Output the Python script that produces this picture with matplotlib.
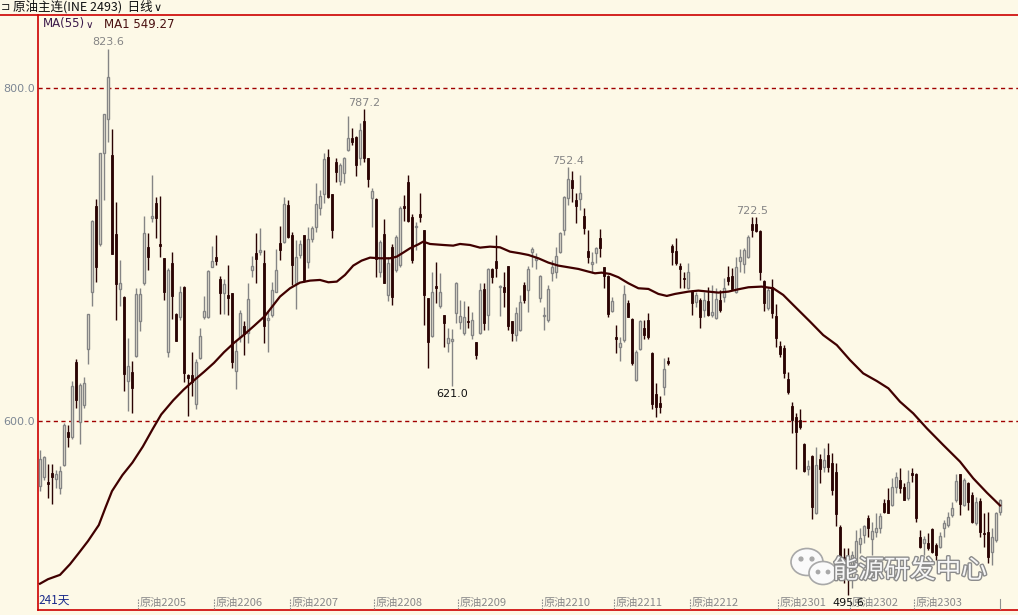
import matplotlib
matplotlib.use("Agg")
import matplotlib.pyplot as plt
import matplotlib.patheffects as pe
from matplotlib.patches import Ellipse, Circle
from matplotlib.lines import Line2D
import numpy as np

# daily candles, 241 days
opens = [561.1, 566.4, 563.6, 568.6, 564.9, 560.0, 573.5, 593.6, 590.6, 635.3,
         599.6, 609.8, 643.2, 677.6, 729.4, 706.1, 761.1, 781.4, 760.0, 712.3,
         679.1, 674.4, 624.2, 629.5, 639.1, 660.1, 683.0, 704.4, 722.1, 731.1,
         706.5, 698.0, 641.7, 694.8, 664.2, 662.7, 680.2, 627.4, 627.8, 610.3,
         638.1, 662.2, 662.7, 692.6, 698.6, 685.1, 676.6, 675.9, 676.6, 629.9,
         650.5, 657.3, 653.1, 690.5, 700.7, 701.2, 694.8, 660.5, 663.7, 677.6,
         706.7, 707.7, 729.7, 711.7, 682.7, 699.7, 711.7, 695.7, 709.1, 716.7,
         727.7, 736.1, 758.4, 736.1, 755.8, 744.3, 748.7, 762.8, 769.8, 770.8,
         757.8, 780.2, 757.8, 733.7, 733.1, 689.7, 712.3, 675.7, 704.7, 690.7,
         693.7, 729.1, 743.7, 722.7, 716.7, 724.3, 714.7, 673.7, 651.1, 681.1,
         669.1, 663.7, 646.7, 648.3, 664.7, 659.7, 652.7, 660.3, 651.7, 647.2,
         652.7, 679.1, 663.7, 691.1, 696.1, 680.3, 680.3, 693.1, 660.1, 651.7,
         654.7, 681.7, 678.7, 701.7, 696.7, 673.7, 663.1, 660.7, 688.7, 689.3,
         701.7, 714.7, 733.7, 744.7, 732.7, 733.1, 723.1, 702.3, 694.1, 701.1,
         709.7, 692.3, 687.1, 666.3, 650.7, 644.7, 648.7, 670.7, 661.1, 624.6,
         643.0, 655.7, 660.7, 641.0, 616.0, 611.0, 620.2, 636.0, 705.3, 702.3,
         693.1, 686.1, 679.7, 678.1, 671.7, 672.7, 666.7, 672.3, 663.7, 661.7,
         672.7, 674.7, 686.7, 687.1, 677.7, 696.3, 694.3, 698.3, 718.3, 718.3,
         714.3, 684.1, 667.7, 680.3, 663.1, 645.0, 643.6, 625.0, 609.2, 602.6,
         600.6, 586.2, 571.0, 579.0, 544.6, 577.0, 572.2, 579.6, 575.0, 569.6,
         536.1, 518.5, 518.9, 512.5, 514.9, 526.1, 531.5, 541.5, 528.9, 533.5,
         535.5, 550.5, 552.5, 549.5, 560.5, 564.6, 560.5, 553.5, 568.6, 568.2,
         530.5, 526.5, 526.9, 534.9, 525.5, 524.5, 535.5, 537.5, 543.5, 552.5,
         568.2, 549.5, 562.6, 555.5, 538.5, 552.2, 532.9, 533.5, 521.5, 528.5,
         545.5]
highs = [582.5, 579.2, 573.9, 573.9, 570.7, 572.8, 598.5, 597.4, 624.2, 637.4,
         622.7, 626.3, 664.2, 720.4, 733.3, 761.1, 784.6, 823.6, 775.6, 731.8,
         696.5, 675.3, 650.0, 635.9, 679.8, 679.8, 723.2, 712.9, 747.6, 734.3,
         735.0, 698.0, 691.6, 701.2, 664.6, 680.8, 681.3, 628.5, 641.3, 637.0,
         656.0, 675.1, 690.5, 704.8, 711.9, 687.3, 685.1, 693.7, 676.6, 648.8,
         666.5, 659.9, 683.0, 699.0, 712.9, 716.1, 702.7, 665.9, 683.4, 703.3,
         717.1, 734.3, 732.7, 713.7, 708.7, 708.7, 711.7, 716.7, 717.1, 742.7,
         738.7, 760.8, 763.2, 736.1, 757.8, 754.8, 758.8, 783.2, 775.8, 771.2,
         778.8, 787.2, 757.8, 739.7, 733.7, 708.7, 721.1, 698.7, 706.3, 711.7,
         729.1, 735.7, 747.7, 724.3, 719.7, 736.7, 714.7, 673.7, 689.7, 695.7,
         689.1, 663.7, 655.7, 655.3, 683.7, 672.7, 672.1, 669.1, 665.7, 647.2,
         682.7, 682.7, 691.7, 691.7, 711.7, 681.7, 689.7, 693.1, 660.1, 668.7,
         675.7, 683.7, 693.1, 704.7, 700.7, 687.7, 668.7, 681.7, 696.7, 704.3,
         713.7, 735.1, 752.4, 750.3, 737.1, 747.7, 727.7, 714.7, 701.7, 704.7,
         715.1, 692.7, 687.7, 674.7, 657.7, 650.7, 681.7, 672.7, 661.7, 642.6,
         660.7, 660.7, 664.7, 641.6, 623.0, 615.0, 637.6, 638.6, 706.1, 709.7,
         694.7, 689.7, 694.7, 678.7, 677.7, 673.7, 677.7, 680.7, 681.7, 679.7,
         678.7, 685.7, 693.1, 691.7, 698.7, 703.1, 703.7, 711.7, 722.5, 722.3,
         714.7, 684.7, 680.3, 685.1, 670.3, 648.2, 645.6, 629.6, 611.6, 604.6,
         607.0, 586.6, 576.6, 579.6, 584.6, 580.2, 583.6, 586.6, 581.0, 574.6,
         537.5, 523.5, 523.5, 522.0, 534.5, 535.5, 537.5, 543.5, 539.5, 544.5,
         544.9, 552.9, 559.5, 565.5, 569.6, 571.6, 562.9, 570.6, 571.6, 568.6,
         534.5, 530.9, 532.5, 535.5, 526.5, 533.5, 540.5, 545.5, 551.5, 568.2,
         568.2, 565.6, 563.6, 557.5, 554.5, 553.5, 544.5, 545.5, 535.5, 545.5,
         552.9]
lows = [557.9, 564.3, 553.6, 550.4, 560.0, 556.4, 572.8, 584.6, 588.9, 608.1,
        586.3, 608.1, 634.2, 669.1, 683.6, 704.8, 732.6, 767.5, 700.1, 660.5,
        669.1, 617.8, 606.0, 604.9, 638.5, 654.1, 681.9, 690.5, 719.3, 709.7,
        698.6, 672.9, 638.7, 661.2, 648.3, 660.5, 623.5, 602.8, 614.9, 607.1,
        637.4, 661.2, 661.6, 692.2, 693.7, 664.4, 664.4, 663.7, 631.7, 619.2,
        647.7, 639.6, 647.1, 686.2, 683.0, 699.4, 646.6, 641.7, 662.7, 677.6,
        696.7, 706.7, 709.7, 681.7, 667.3, 697.7, 683.7, 691.7, 707.7, 713.7,
        723.7, 730.7, 733.7, 709.7, 743.7, 741.7, 742.7, 762.4, 765.8, 747.1,
        753.8, 755.8, 740.7, 716.7, 686.7, 686.7, 683.1, 672.3, 669.7, 689.7,
        692.7, 720.3, 719.7, 694.7, 702.7, 719.7, 657.7, 631.7, 650.7, 670.7,
        667.7, 644.7, 641.7, 621.0, 658.7, 655.1, 651.7, 656.1, 649.1, 637.0,
        652.1, 654.7, 654.7, 682.7, 686.7, 663.1, 668.7, 654.7, 648.3, 648.1,
        654.3, 671.1, 665.7, 692.7, 691.1, 671.7, 654.7, 659.7, 684.3, 685.7,
        700.7, 711.7, 729.7, 731.7, 719.1, 726.7, 712.3, 695.1, 688.7, 694.7,
        698.7, 679.7, 662.7, 665.7, 640.7, 636.2, 647.7, 662.3, 633.6, 624.2,
        642.6, 649.1, 649.1, 607.0, 602.6, 604.6, 615.6, 633.6, 693.7, 693.7,
        679.7, 679.7, 679.1, 663.7, 668.7, 655.7, 662.7, 663.1, 662.7, 661.1,
        665.7, 671.7, 681.7, 678.7, 676.7, 689.7, 688.7, 697.7, 710.7, 713.7,
        684.7, 666.3, 666.7, 661.7, 644.2, 638.6, 625.6, 616.2, 592.6, 571.0,
        595.0, 569.6, 567.6, 540.9, 544.2, 562.6, 569.6, 569.6, 555.6, 536.9,
        513.5, 502.5, 495.6, 500.0, 514.1, 520.5, 526.5, 530.5, 519.5, 530.5,
        532.5, 544.5, 544.5, 548.9, 556.5, 556.5, 552.5, 552.5, 563.6, 539.5,
        523.5, 519.5, 522.5, 520.5, 516.5, 523.5, 530.5, 536.5, 542.5, 551.5,
        543.5, 548.9, 546.5, 538.5, 537.5, 530.5, 524.5, 514.5, 513.5, 527.5,
        543.5]
closes = [577.1, 578.2, 562.4, 566.4, 567.9, 570.1, 597.4, 590.6, 620.9, 612.4,
          621.8, 622.7, 664.2, 719.8, 692.6, 761.1, 784.6, 806.4, 700.1, 682.4,
          683.0, 628.0, 633.2, 619.9, 676.2, 676.2, 712.7, 698.6, 723.0, 722.1,
          704.8, 677.6, 690.9, 674.9, 648.3, 677.6, 628.9, 625.9, 623.5, 635.3,
          650.9, 665.9, 690.1, 695.8, 695.8, 676.6, 682.4, 674.0, 635.3, 642.3,
          664.8, 652.4, 673.4, 693.1, 697.5, 702.7, 657.3, 661.6, 678.7, 690.5,
          702.7, 730.1, 710.7, 693.7, 698.7, 706.3, 684.7, 709.1, 715.7, 730.1,
          735.1, 757.4, 734.7, 714.7, 749.8, 753.8, 757.8, 769.8, 767.8, 753.8,
          774.8, 757.8, 745.1, 738.3, 697.0, 707.7, 683.1, 694.7, 674.7, 710.7,
          728.1, 727.7, 720.3, 696.7, 717.3, 722.7, 675.7, 647.7, 677.7, 679.7,
          677.3, 658.7, 650.1, 649.3, 683.1, 663.1, 662.7, 659.3, 660.7, 639.7,
          678.7, 659.1, 691.3, 686.3, 692.1, 681.1, 677.7, 657.1, 653.1, 665.1,
          671.3, 672.7, 691.1, 703.1, 697.7, 687.1, 663.7, 679.1, 692.7, 699.1,
          712.7, 734.3, 745.1, 739.7, 729.1, 737.1, 715.7, 698.7, 695.7, 703.7,
          703.7, 687.1, 664.3, 672.3, 649.1, 647.1, 676.3, 662.7, 634.6, 641.6,
          660.1, 651.6, 650.7, 610.2, 608.6, 608.2, 631.0, 634.6, 701.7, 695.1,
          691.1, 685.3, 689.7, 670.7, 675.7, 662.3, 672.7, 663.7, 665.7, 673.1,
          666.7, 679.7, 684.3, 679.1, 692.7, 698.7, 702.7, 710.3, 714.7, 714.3,
          689.7, 670.7, 678.7, 665.1, 649.7, 640.2, 628.6, 617.6, 600.6, 593.6,
          596.6, 570.2, 573.0, 548.6, 573.6, 571.0, 576.6, 572.6, 558.6, 544.2,
          516.5, 509.5, 507.5, 519.5, 528.1, 529.5, 536.9, 535.5, 534.1, 535.5,
          542.9, 545.5, 544.5, 560.2, 566.6, 559.5, 552.5, 563.6, 567.6, 541.5,
          524.5, 528.9, 523.5, 521.5, 519.5, 530.9, 538.5, 542.5, 547.5, 564.2,
          550.2, 564.6, 551.5, 539.5, 551.5, 533.5, 531.9, 518.5, 530.5, 544.5,
          552.5]

# MA(55) read at sampled bars
ma_idx = [0, 2, 5, 7.5, 9.6, 12, 14.7, 16.4, 18, 20.6, 23.1, 25.7, 28.2, 30.3,
          33.3, 35.9, 38.4, 41, 43.5, 46, 48.6, 51.1, 53.6, 56.2, 57.5, 60, 62.5,
          65, 67.5, 70, 72.1, 74.2, 76.25, 78.3, 80.4, 82.5, 85, 87.5, 89.2, 90.8,
          92.5, 94.6, 95.8, 97.5, 100.8, 103.3, 105, 107.5, 110, 112.5, 115,
          117.5, 120, 122.1, 124.6, 127.1, 129.6, 132.1, 134.6, 137.1, 138.75,
          140.4, 142.5, 144.6, 147.1, 149.6, 152.1, 154.6, 156.7, 158.75, 162.1,
          164.6, 167.1, 169.6, 172.1, 174.6, 177.1, 180.4, 183.3, 185.8, 188.3,
          192.5, 195.8, 199.2, 202.5, 205.8, 209.2, 212.1, 215, 218.3, 221.7,
          225.8, 230, 233.3, 236.7, 240]
ma_val = [502.3, 505.0, 507.6, 514.0, 520.4, 527.9, 537.5, 548.2, 557.9, 567.5,
          575.0, 584.6, 595.3, 603.9, 612.4, 618.8, 624.2, 629.5, 634.9, 641.3,
          647.1, 652.0, 657.3, 663.0, 667.0, 674.7, 679.7, 683.1, 684.3, 684.7,
          683.3, 683.7, 687.7, 693.3, 696.3, 698.1, 697.7, 697.7, 698.7, 701.1,
          703.7, 706.1, 707.7, 706.3, 705.7, 705.3, 706.3, 705.7, 704.1, 704.7,
          704.3, 701.7, 700.7, 699.7, 697.7, 695.1, 693.3, 692.3, 691.3, 689.7,
          688.7, 689.1, 688.3, 686.3, 682.7, 679.7, 679.3, 676.3, 675.1, 676.3,
          677.7, 678.3, 677.7, 677.1, 677.7, 679.1, 680.3, 680.7, 679.7, 675.7,
          669.7, 659.7, 651.6, 645.6, 636.6, 628.6, 624.0, 619.6, 611.6, 604.6,
          595.6, 585.6, 575.6, 565.6, 557.0, 549.27]

month_idx = [25, 44, 63, 84, 105, 126, 144, 163, 185, 203, 219]
month_lab = ["原油2205", "原油2206", "原油2207", "原油2208", "原油2209", "原油2210",
             "原油2211", "原油2212", "原油2301", "原油2302", "原油2303"]

peak_idx = [17, 81, 132, 178]
trough_idx = [103, 202]

bg = "#fdf9e7"
up_col = "#858585"
dn_col = "#2a0303"
red = "#cc0000"
cjk = ["Noto Sans CJK SC", "DejaVu Sans"]

W, H = 1018, 615
fig = plt.figure(figsize=(W / 100, H / 100), dpi=100, facecolor=bg)
ax = fig.add_axes([38 / W, 5 / H, (W - 38) / W, 595 / H], facecolor=bg)

o = np.array(opens)
h = np.array(highs)
l = np.array(lows)
c = np.array(closes)
x = np.arange(len(c))
up = c >= o
dn = ~up

ax.vlines(x[up], l[up], h[up], color=up_col, lw=1, zorder=2)
ax.bar(x[up], np.maximum(c[up] - o[up], 0.3), bottom=o[up], width=0.62,
       facecolor=bg, edgecolor=up_col, lw=1, zorder=3)
ax.vlines(x[dn], l[dn], h[dn], color=dn_col, lw=1, zorder=2)
ax.bar(x[dn], np.maximum(o[dn] - c[dn], 0.6), bottom=c[dn], width=0.72,
       facecolor=dn_col, edgecolor=dn_col, lw=0.6, zorder=3)

ax.plot(ma_idx, ma_val, color="#400000", lw=1.6, zorder=4)

for lv in [600, 800]:
    ax.axhline(lv, color="#a00000", lw=1, ls=(0, (3, 2.5)), zorder=1)

ax.set_xlim(-0.5, 244.5)
ax.set_ylim(486.5, 843.8)
ax.set_yticks([600, 800])
ax.set_yticklabels(["600.0", "800.0"])
ax.tick_params(axis="y", length=0, pad=2, labelsize=8, labelcolor="#7d8794")
ax.set_xticks([])
for s in ["top", "right"]:
    ax.spines[s].set_visible(False)
ax.spines["left"].set_color(red)
ax.spines["bottom"].set_color(red)
ax.spines["left"].set_linewidth(1.2)
ax.spines["bottom"].set_linewidth(1.2)

# peak / trough labels
for i in peak_idx:
    ax.annotate(f"{highs[i]:.1f}", (i, highs[i]), xytext=(0, 1), textcoords="offset points",
                ha="center", va="bottom", fontsize=8, color="#858585", zorder=6)
for i in trough_idx:
    ax.annotate(f"{lows[i]:.1f}", (i, lows[i]), xytext=(0, -2), textcoords="offset points",
                ha="center", va="top", fontsize=8, color="#111111", zorder=7)

# month labels along the bottom
tr = ax.get_xaxis_transform()
for i, lab in zip(month_idx, month_lab):
    ax.plot([i - 0.5, i - 0.5], [0.002, 0.019], transform=tr, color="#909090",
            lw=0.8, ls=(0, (1.5, 1)), clip_on=False, zorder=5)
    ax.text(i, 0.011, lab, transform=tr, fontsize=8, color="#8a8a8a",
            family=cjk, ha="left", va="center", zorder=5)
ax.plot([240, 240], [0.002, 0.019], transform=tr, color="#909090", lw=0.8, zorder=5)
ax.text(0, 0.016, "241天", transform=ax.transAxes, fontsize=8.5, color="#1a2a8a",
        family=cjk, ha="left", va="center", zorder=6)

# header
fig.add_artist(Line2D([0, 1], [1 - 15 / H, 1 - 15 / H], color=red, lw=1.2))
fig.text(1 / W, 1 - 7 / H, "⊐", fontsize=8, color="#222222", va="center")
fig.text(13 / W, 1 - 7 / H, "原油主连(INE 2493)  日线", fontsize=9, color="#111111",
         family=cjk, va="center")
fig.text(154 / W, 1 - 8 / H, "∨", fontsize=8, color="#111111", va="center")
fig.text(43 / W, 1 - 24 / H, "MA(55)", fontsize=8.5, color="#3c1a4a", va="center")
fig.text(86 / W, 1 - 25 / H, "∨", fontsize=7.5, color="#3c1a4a", va="center")
fig.text(104 / W, 1 - 24 / H, "MA1 549.27", fontsize=8.5, color="#4a1010", va="center")

# watermark
wm = fig.add_axes([0, 0, 1, 1], facecolor="none")
wm.set_xlim(0, W)
wm.set_ylim(H, 0)
wm.axis("off")
wm.add_patch(Ellipse((807, 562), 32, 27, facecolor="#fafafa", edgecolor="#a8a8a8", lw=1.2))
wm.add_patch(Ellipse((823, 573), 28, 23, facecolor="#fafafa", edgecolor="#a8a8a8", lw=1.2))
for ex, ey, r in [(801, 559, 1.9), (812, 559, 1.9), (818, 572, 1.7), (828, 572, 1.7)]:
    wm.add_patch(Circle((ex, ey), r, color="#a8a8a8"))
wm.text(910, 571, "能源研发中心", fontsize=18.5, color="#f7f7f7", family=cjk,
        ha="center", va="center",
        path_effects=[pe.withStroke(linewidth=2, foreground="#8c8c8c")])

fig.savefig("out.png", dpi=100, facecolor=bg)
